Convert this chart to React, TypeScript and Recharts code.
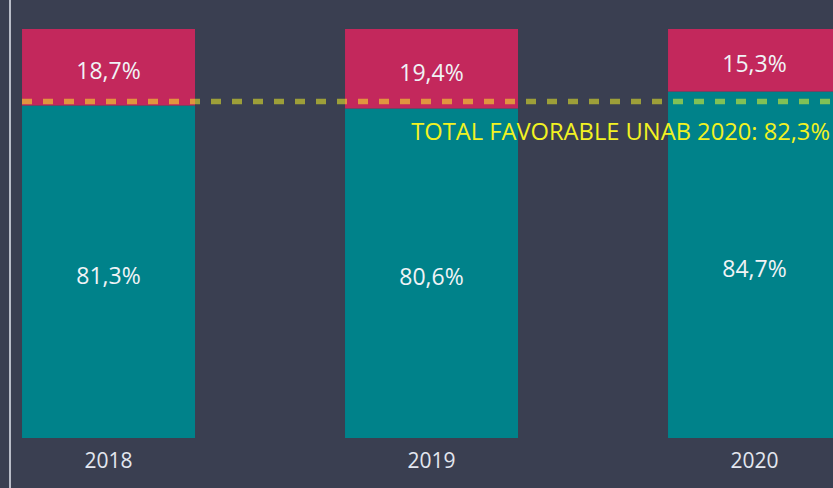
import { BarChart, Bar, XAxis, YAxis, ReferenceLine, LabelList } from 'recharts';

const years = ['2018', '2019', '2020'];
const favorable = [81.3, 80.6, 84.7];
const unfavorable = [18.7, 19.4, 15.3];
const totalFavorable = 82.3;
const totalLabel = 'TOTAL FAVORABLE UNAB 2020';

const data = years.map((year, i) => ({
  idx: i,
  year,
  favorable: favorable[i],
  unfavorable: unfavorable[i],
}));

const X_DOMAIN: [number, number] = [-0.305, 2.243];
const Y_DOMAIN: [number, number] = [0, 107.1];

const fmt = (v: number) => `${v.toFixed(1).replace('.', ',')}%`;

const TotalLabel = (props: any) => {
  const { viewBox } = props;
  return (
    <text
      x={viewBox.x + viewBox.width - 3}
      y={viewBox.y + 39}
      textAnchor="end"
      fill="#f2f222"
      fontSize={23.7}
    >
      {`${totalLabel}: ${fmt(totalFavorable)}`}
    </text>
  );
};

export default function App() {
  return (
    <div
      style={{
        position: 'fixed',
        left: 0,
        top: 0,
        width: 833,
        height: 488,
        background: '#3a3f51',
        fontFamily: "'Open Sans', sans-serif",
      }}
    >
      <BarChart
        width={833}
        height={488}
        data={data}
        margin={{ top: 0, right: 0, bottom: 0, left: 10 }}
      >
        <XAxis
          dataKey="idx"
          type="number"
          domain={X_DOMAIN}
          allowDataOverflow
          ticks={[0, 1, 2]}
          tickFormatter={(v) => years[v]}
          axisLine={false}
          tickLine={false}
          height={50}
          tickMargin={9}
          tick={{ fill: '#e3e7ef', fontSize: 21 }}
        />
        <YAxis hide domain={Y_DOMAIN} allowDataOverflow />
        <Bar
          dataKey="favorable"
          stackId="a"
          fill="#00828a"
          barSize={173}
          isAnimationActive={false}
        >
          <LabelList
            dataKey="favorable"
            position="center"
            formatter={(v: any) => fmt(Number(v))}
            fill="#f0f3f6"
            fontSize={23}
            dy={4}
          />
        </Bar>
        <Bar
          dataKey="unfavorable"
          stackId="a"
          fill="#c3285c"
          barSize={173}
          isAnimationActive={false}
        >
          <LabelList
            dataKey="unfavorable"
            position="center"
            formatter={(v: any) => fmt(Number(v))}
            fill="#f0f3f6"
            fontSize={23}
            dy={4}
          />
        </Bar>
        <ReferenceLine
          y={totalFavorable}
          stroke="#ffff22"
          strokeOpacity={0.5}
          strokeWidth={5.5}
          strokeDasharray="10 11"
          strokeDashoffset={9}
          label={<TotalLabel />}
        />
        <ReferenceLine
          segment={[
            { x: X_DOMAIN[0], y: Y_DOMAIN[1] },
            { x: X_DOMAIN[0], y: -12.3 },
          ]}
          ifOverflow="visible"
          stroke="#b9bdc8"
          strokeWidth={2}
        />
      </BarChart>
    </div>
  );
}
